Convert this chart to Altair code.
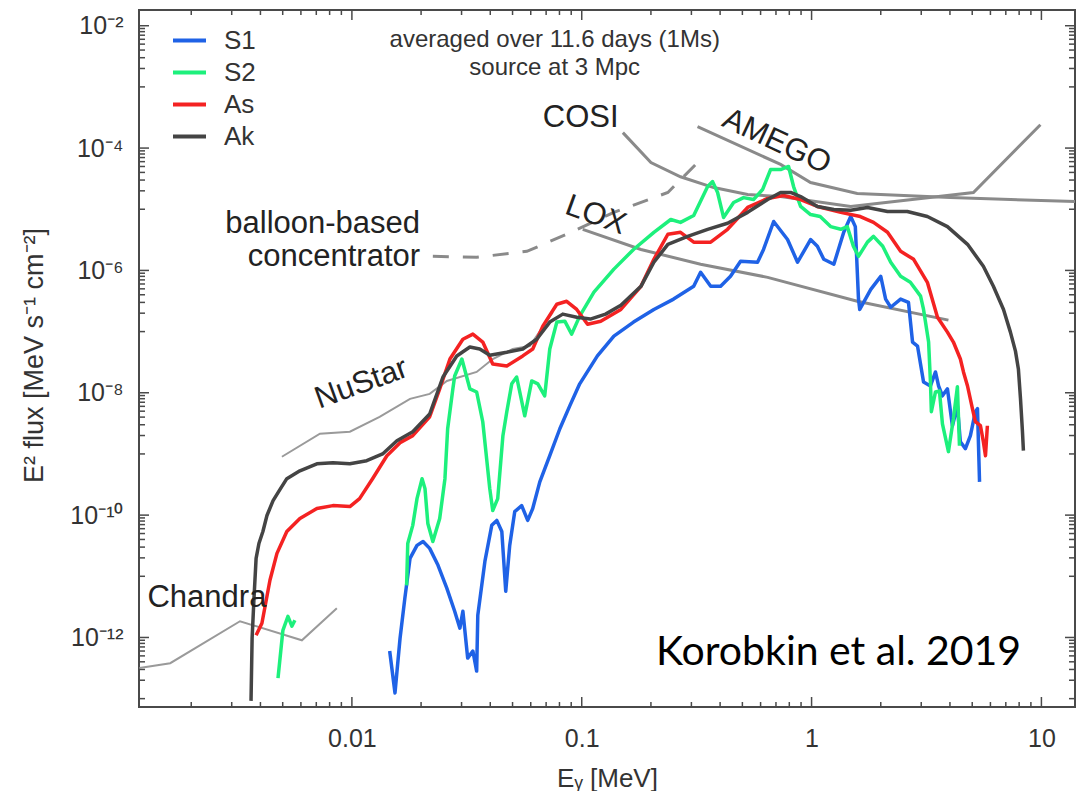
import altair as alt
import pandas as pd

# ---------------- data ----------------
SERIES = ["S1", "S2", "As", "Ak"]
COLORS = ["#1f62e6", "#1df07c", "#f42222", "#444444"]

S1_X = [0.0146, 0.0154, 0.0162, 0.017, 0.0179, 0.0192, 0.0204, 0.0218, 0.0237, 0.0259,
        0.028, 0.0295, 0.0304, 0.0319, 0.0336, 0.0349, 0.0353, 0.0379, 0.0406, 0.0427,
        0.0449, 0.0467, 0.0486, 0.0511, 0.0548, 0.0582, 0.0612, 0.0657, 0.0726, 0.0803,
        0.0887, 0.098, 0.117, 0.138, 0.168, 0.206, 0.251, 0.307, 0.329, 0.364,
        0.402, 0.444, 0.491, 0.582, 0.618, 0.684, 0.786, 0.869, 0.99, 1.06,
        1.13, 1.25, 1.38, 1.48, 1.55, 1.60, 1.62, 1.81, 2.0, 2.10,
        2.21, 2.44, 2.64, 2.75, 2.89, 3.07, 3.29, 3.46, 3.57, 3.71,
        3.90, 4.10, 4.31, 4.44, 4.67, 4.91, 5.16, 5.27, 5.38]
S1_Y = [6.0e-13, 1.24e-13, 9.7e-13, 4.4e-12, 1.96e-11, 3.2e-11, 3.7e-11, 2.86e-11, 1.51e-11, 6.35e-12,
        2.68e-12, 1.42e-12, 2.68e-12, 4.6e-13, 6.0e-13, 2.82e-13, 2.31e-12, 1.75e-11, 6.8e-11, 8.2e-11,
        5.4e-11, 5.7e-12, 3.2e-11, 1.14e-10, 1.43e-10, 8.2e-11, 1.28e-10, 3.5e-10, 9.35e-10, 2.58e-9,
        6.1e-9, 1.4e-8, 4.0e-8, 8.45e-8, 1.43e-7, 2.3e-7, 3.4e-7, 5.5e-7, 9.3e-7, 5.5e-7,
        5.5e-7, 8.0e-7, 1.41e-6, 1.36e-6, 2.2e-6, 6.3e-6, 3.2e-6, 1.36e-6, 3.2e-6, 2.48e-6,
        1.52e-6, 1.26e-6, 4.2e-6, 7.6e-6, 5.2e-6, 3.4e-7, 2.3e-7, 4.9e-7, 8.0e-7, 3.4e-7,
        2.5e-7, 3.4e-7, 3.0e-7, 6.75e-8, 5.8e-8, 1.5e-8, 1.29e-8, 2.19e-8, 1.29e-8, 8.9e-9,
        1.16e-8, 2.89e-9, 6.1e-9, 1.58e-9, 1.22e-9, 1.99e-9, 4.9e-9, 5.5e-9, 3.5e-10]

# S2 has a short low-energy fragment and the main curve
S2A_X = [0.00477, 0.00501, 0.00527, 0.00548, 0.00565]
S2A_Y = [2.17e-13, 1.31e-12, 2.22e-12, 1.53e-12, 1.91e-12]
S2_X = [0.0173, 0.0175, 0.0184, 0.0192, 0.0202, 0.0208, 0.0214, 0.0225, 0.0241, 0.0254,
        0.0261, 0.0275, 0.028, 0.0301, 0.0326, 0.0349, 0.0371, 0.0398, 0.041, 0.0431,
        0.0454, 0.0472, 0.0496, 0.0521, 0.0565, 0.0606, 0.0644, 0.069, 0.0726, 0.0779,
        0.0844, 0.0904, 0.098, 0.113, 0.138, 0.168, 0.206, 0.244, 0.269, 0.307,
        0.353, 0.371, 0.39, 0.414, 0.458, 0.506, 0.559, 0.612, 0.663, 0.733,
        0.794, 0.835, 0.896, 0.99, 1.09, 1.21, 1.34, 1.43, 1.52, 1.60,
        1.75, 1.86, 2.04, 2.21, 2.44, 2.69, 2.98, 3.07, 3.23, 3.29,
        3.32, 3.46, 3.60, 3.71, 3.94, 4.14, 4.31, 4.40]
S2_Y = [7.1e-12, 3.44e-11, 6.8e-11, 1.86e-10, 3.94e-10, 2.71e-10, 7.3e-11, 3.7e-11, 8.8e-11, 3.94e-10,
        2.58e-9, 1.16e-8, 1.88e-8, 3.56e-8, 1.16e-8, 1.03e-8, 3.36e-9, 2.71e-10, 1.19e-10, 1.86e-10,
        1.99e-9, 4.9e-9, 1.4e-8, 1.81e-8, 4.2e-9, 1.56e-8, 1.4e-8, 8.9e-9, 5.2e-8, 1.43e-7,
        1.48e-7, 9.1e-8, 1.79e-7, 4.4e-7, 1.05e-6, 2.2e-6, 4.2e-6, 6.8e-6, 6.1e-6, 7.9e-6,
        2.35e-5, 2.83e-5, 1.88e-5, 7.35e-6, 1.29e-5, 1.55e-5, 1.44e-5, 2.1e-5, 4.45e-5, 4.45e-5,
        5.0e-5, 2.35e-5, 1.11e-5, 8.2e-6, 7.6e-6, 5.2e-6, 4.7e-6, 5.2e-6, 2.48e-6, 1.7e-6,
        2.9e-6, 3.6e-6, 2.48e-6, 1.36e-6, 8.0e-7, 6.4e-7, 3.8e-7, 2.3e-7, 6.75e-8, 1.5e-8,
        4.9e-9, 1.03e-8, 1.07e-8, 3.1e-9, 1.09e-9, 3.76e-9, 1.25e-8, 1.36e-9]

AS_X = [0.00383, 0.00406, 0.0044, 0.00472, 0.00521, 0.00594, 0.00704, 0.00827, 0.0098, 0.0108,
        0.0123, 0.0142, 0.0162, 0.0184, 0.0218, 0.0241, 0.0267, 0.0304, 0.0336, 0.0371,
        0.041, 0.0472, 0.0554, 0.0612, 0.0677, 0.0779, 0.086, 0.0951, 0.106, 0.121,
        0.148, 0.181, 0.206, 0.237, 0.269, 0.307, 0.364, 0.431, 0.527, 0.644,
        0.755, 0.896, 1.06, 1.34, 1.63, 1.86, 2.14, 2.44, 2.78, 3.19,
        3.53, 3.90, 4.14, 4.44, 4.58, 4.77, 5.01, 5.16, 5.43, 5.59,
        5.71, 5.82]
AS_Y = [1.09e-12, 1.71e-12, 8.6e-12, 2.37e-11, 5.4e-11, 8.8e-11, 1.28e-10, 1.43e-10, 1.38e-10, 1.86e-10,
        3.94e-10, 9.35e-10, 1.53e-9, 1.99e-9, 4.05e-9, 1.16e-8, 3.56e-8, 7.5e-8, 9.1e-8, 6.75e-8,
        2.95e-8, 2.74e-8, 4.0e-8, 5.2e-8, 1.23e-7, 2.8e-7, 3.13e-7, 2.3e-7, 1.32e-7, 1.48e-7,
        2.3e-7, 5.5e-7, 1.52e-6, 3.9e-6, 4.2e-6, 2.9e-6, 2.9e-6, 4.7e-6, 1.07e-5, 1.5e-5,
        1.68e-5, 1.44e-5, 1.11e-5, 8.9e-6, 7.6e-6, 6.1e-6, 4.2e-6, 2.05e-6, 1.52e-6, 6.4e-7,
        1.72e-7, 9.8e-8, 6.75e-8, 3.56e-8, 2.19e-8, 1.29e-8, 5.5e-9, 3.36e-9, 2.89e-9, 1.58e-9,
        9.35e-10, 2.89e-9]

AK_X = [0.00364, 0.00368, 0.00375, 0.00383, 0.00394, 0.0041, 0.00427, 0.00454, 0.00486, 0.00521,
        0.00594, 0.00704, 0.00827, 0.0098, 0.0116, 0.0136, 0.0157, 0.0184, 0.0218, 0.0249,
        0.0286, 0.0326, 0.036, 0.0398, 0.0472, 0.0554, 0.0637, 0.0726, 0.0827, 0.0951,
        0.109, 0.127, 0.148, 0.181, 0.206, 0.237, 0.289, 0.353, 0.431, 0.527,
        0.644, 0.733, 0.811, 0.896, 1.06, 1.25, 1.48, 1.75, 2.14, 2.61,
        3.19, 3.90, 4.77, 5.59, 6.18, 6.84, 7.33, 7.71, 7.94, 8.11,
        8.27, 8.35]
AK_Y = [9.2e-14, 9.7e-13, 4.4e-12, 1.96e-11, 3.44e-11, 5.4e-11, 9.85e-11, 1.73e-10, 2.61e-10, 3.94e-10,
        5.3e-10, 6.9e-10, 7.2e-10, 6.9e-10, 7.75e-10, 1.0e-9, 1.64e-9, 2.31e-9, 4.5e-9, 1.81e-8,
        4.0e-8, 5.6e-8, 5.2e-8, 4.1e-8, 4.6e-8, 5.2e-8, 7.5e-8, 1.43e-7, 1.93e-7, 1.72e-7,
        1.6e-7, 1.93e-7, 2.7e-7, 5.5e-7, 1.36e-6, 2.67e-6, 3.6e-6, 4.7e-6, 5.9e-6, 8.9e-6,
        1.44e-5, 1.88e-5, 1.88e-5, 1.61e-5, 1.11e-5, 9.9e-6, 9.6e-6, 1.07e-5, 9.2e-6, 9.2e-6,
        7.6e-6, 5.2e-6, 2.67e-6, 1.17e-6, 5.5e-7, 2.3e-7, 9.8e-8, 4.8e-8, 2.45e-8, 7.95e-9,
        2.31e-9, 1.13e-9]

# instrument sensitivity curves
CHANDRA_X = [0.00119, 0.00162, 0.00326, 0.00606, 0.0086]
CHANDRA_Y = [3.16e-13, 3.8e-13, 1.84e-12, 9.0e-13, 3.0e-12]
NUSTAR_X = [0.00496, 0.00726, 0.0098, 0.0132, 0.0179, 0.0218, 0.0259, 0.0349, 0.041, 0.0501, 0.0594, 0.0748]
NUSTAR_Y = [9.0e-10, 2.14e-9, 2.31e-9, 4.05e-9, 7.95e-9, 9.6e-9, 1.56e-8, 2.19e-8, 3.56e-8, 5.2e-8, 5.8e-8, 2.07e-7]
BALLOON_X = [0.0225, 0.0349, 0.0577, 0.086, 0.138, 0.237, 0.329]
BALLOON_Y = [1.7e-6, 1.64e-6, 2.05e-6, 3.9e-6, 8.9e-6, 1.88e-5, 6.5e-5]
LOX_X = [0.101, 0.181, 0.329, 0.644, 1.58, 3.94]
LOX_Y = [4.7e-6, 2.2e-6, 1.26e-6, 7.7e-7, 3.13e-7, 1.54e-7]
COSI_X = [0.151, 0.2, 0.269, 0.375, 0.527, 0.733, 1.48, 5.06, 9.9]
COSI_Y = [1.79e-4, 5.8e-5, 3.4e-5, 2.26e-5, 1.74e-5, 1.61e-5, 1.11e-5, 1.88e-5, 2.41e-4]
AMEGO_X = [0.319, 0.733, 0.99, 1.58, 4.02, 14.0]
AMEGO_Y = [2.24e-4, 5.4e-5, 2.73e-5, 1.81e-5, 1.55e-5, 1.34e-5]

# tick values / labels
X_LABELS = [0.01, 0.1, 1, 10]
Y_LABELS = [1e-2, 1e-4, 1e-6, 1e-8, 1e-10, 1e-12]

# ---------------- layout / style ----------------
W, H = 936, 697
X_DOMAIN = [0.001185, 14.0]
Y_DOMAIN = [7.3e-14, 1.807e-2]
FONT = "Liberation Sans"
FRAME = "#4a4a4a"
GRAY = "#8a8a8a"
TXT = "#222222"

X_MINOR = [m * 10.0 ** e for e in (-3, -2, -1, 0, 1) for m in range(2, 10)]
X_MINOR = [v for v in X_MINOR if X_DOMAIN[0] < v < X_DOMAIN[1]]
Y_MINOR = [m * 10.0 ** (e - 1) for e in (-2, -4, -6, -8, -10, -12) for m in range(1, 10)]
Y_MINOR = [v for v in Y_MINOR if Y_DOMAIN[0] < v < Y_DOMAIN[1]]

xscale = alt.Scale(type="log", domain=X_DOMAIN, nice=False)
yscale = alt.Scale(type="log", domain=Y_DOMAIN, nice=False)

y_label_expr = ("datum.value < 5e-12 ? '10⁻¹²' : datum.value < 5e-10 ? '10⁻¹⁰' : "
                "datum.value < 5e-8 ? '10⁻⁸' : datum.value < 5e-6 ? '10⁻⁶' : "
                "datum.value < 5e-4 ? '10⁻⁴' : '10⁻²'")

xaxis = alt.Axis(values=X_LABELS, labelExpr="datum.value >= 1 ? format(datum.value, 'd') : format(datum.value, '.2~f')",
                 ticks=False, tickSize=0, domain=False, grid=False, labelFont=FONT, labelFontSize=25,
                 labelColor="#333333", labelPadding=19, labelFlush=False, labelOverlap=False,
                 title="Eᵧ [MeV]", titleFont=FONT, titleFontSize=26, titleFontWeight="normal",
                 titleColor="#333333", titleX=W / 2, titleY=71, titleAlign="center", titleBaseline="middle")
yaxis = alt.Axis(values=Y_LABELS, labelExpr=y_label_expr,
                 ticks=False, tickSize=0, domain=False, grid=False, labelFont=FONT, labelFontSize=25,
                 labelColor="#333333", labelPadding=16, labelFlush=False, labelOverlap=False,
                 title="E² flux [MeV s⁻¹ cm⁻²]", titleFont=FONT, titleFontSize=27, titleFontWeight="normal",
                 titleColor="#333333", titleX=-105, titleY=345, titleAngle=270, titleAlign="center",
                 titleBaseline="middle")


def X():
    return alt.X("x:Q", scale=xscale, axis=xaxis)


def Y():
    return alt.Y("y:Q", scale=yscale, axis=yaxis)


legend = alt.Legend(orient="none", legendX=32, legendY=12, title=None, symbolType="stroke",
                    symbolSize=1089, symbolStrokeWidth=4, labelFont=FONT, labelFontSize=26,
                    labelColor="#333333", labelOffset=16, rowPadding=0, padding=0, labelLimit=200)
color = alt.Color("series:N", scale=alt.Scale(domain=SERIES, range=COLORS), legend=legend)


def frame(xs, ys, name, seg=0):
    return pd.DataFrame({"x": xs, "y": ys, "series": name, "seg": seg, "i": range(len(xs))})


def curve(df, width=3.5):
    return alt.Chart(df).mark_line(strokeWidth=width, clip=True, strokeJoin="round").encode(
        x=X(), y=Y(), color=color, detail="seg:N", order="i:Q")


def gray(df, width=3, col=GRAY, dash=None):
    kw = dict(strokeWidth=width, clip=True, color=col)
    if dash:
        kw["strokeDash"] = dash
    return alt.Chart(df).mark_line(**kw).encode(x=X(), y=Y(), detail="series:N", order="i:Q")


def xticks(vals, y0, y1):
    return alt.Chart(pd.DataFrame({"x": vals})).mark_rule(color=FRAME, strokeWidth=1.5).encode(
        x=X(), y=alt.value(y0), y2=alt.value(y1))


def yticks(vals, x0, x1):
    return alt.Chart(pd.DataFrame({"y": vals})).mark_rule(color=FRAME, strokeWidth=1.5).encode(
        y=Y(), x=alt.value(x0), x2=alt.value(x1))


def label(text, x, y, size=31, angle=0, align="center", font=FONT, col=TXT):
    return alt.Chart(pd.DataFrame({"x": [x], "y": [y], "t": [text]})).mark_text(
        fontSize=size, angle=angle, align=align, baseline="middle", font=font, color=col).encode(
        x=X(), y=Y(), text="t:N")


layers = [
    xticks(X_LABELS, H, H - 10), xticks(X_MINOR, H, H - 5),
    xticks(X_LABELS, 0, 10), xticks(X_MINOR, 0, 5),
    yticks(Y_LABELS, 0, 10), yticks(Y_MINOR, 0, 6),
    yticks(Y_LABELS, W, W - 10), yticks(Y_MINOR, W, W - 6),
    gray(pd.concat([frame(CHANDRA_X, CHANDRA_Y, "Chandra"), frame(NUSTAR_X, NUSTAR_Y, "NuStar")]),
         width=2, col="#9a9a9a"),
    gray(frame(BALLOON_X, BALLOON_Y, "balloon"), width=3, dash=[16, 14]),
    gray(pd.concat([frame(LOX_X, LOX_Y, "LOX"), frame(COSI_X, COSI_Y, "COSI"),
                    frame(AMEGO_X, AMEGO_Y, "AMEGO")]), width=3),
    curve(frame(S1_X, S1_Y, "S1")),
    curve(pd.concat([frame(S2A_X, S2A_Y, "S2", 0), frame(S2_X, S2_Y, "S2", 1)])),
    curve(frame(AS_X, AS_Y, "As")),
    curve(frame(AK_X, AK_Y, "Ak")),
    label("averaged over 11.6 days (1Ms)", 0.0763, 5.85e-3, size=24, col="#333333"),
    label("source at 3 Mpc", 0.0763, 2.05e-3, size=24, col="#333333"),
    label("COSI", 0.099, 3.13e-4),
    label("AMEGO", 0.704, 1.27e-4, angle=25),
    label("LOX", 0.115, 7.9e-6, angle=20),
    label("balloon-based", 0.0198, 5.65e-6, align="right"),
    label("concentrator", 0.0198, 1.64e-6, align="right"),
    label("NuStar", 0.011, 1.4e-8, angle=340),
    label("Chandra", 0.00234, 4.4e-12),
    label("Korobkin et al. 2019", 1.31, 5.55e-13, size=41, font="Lato", col="#000000"),
]

chart = alt.layer(*layers).properties(
    width=W, height=H,
    padding={"left": 139, "top": 10, "right": 10, "bottom": 84},
    autosize=alt.AutoSizeParams(type="none"),
).configure_view(stroke=FRAME, strokeWidth=2)

chart.save("out.html", embed_options={"renderer": "svg", "actions": False})
